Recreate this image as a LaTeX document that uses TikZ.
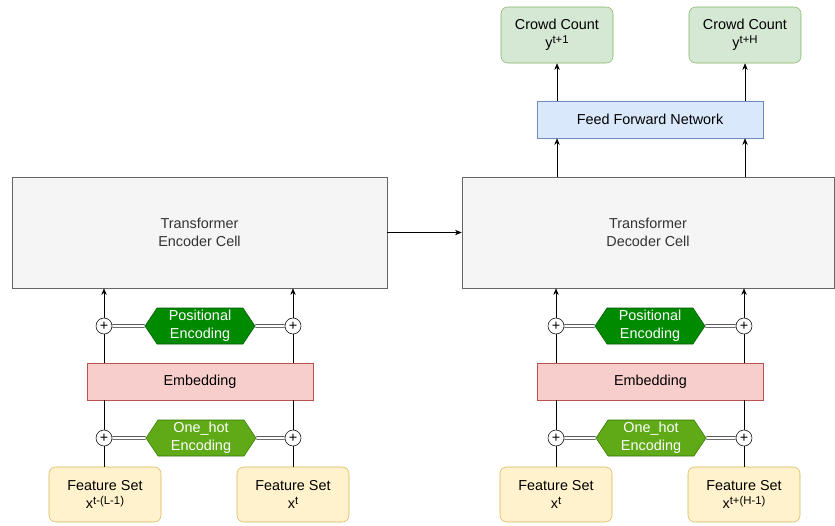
\documentclass[tikz,border=0pt]{standalone}
\usepackage{fontspec}
\setmainfont{Liberation Sans}
\usetikzlibrary{positioning,arrows.meta,shapes.symbols}

\definecolor{cellfill}{HTML}{F5F5F5}
\definecolor{celldraw}{HTML}{666666}
\definecolor{celltext}{HTML}{333333}
\definecolor{embfill}{HTML}{F8CECC}
\definecolor{embdraw}{HTML}{B85450}
\definecolor{featfill}{HTML}{FFF2CC}
\definecolor{featdraw}{HTML}{D6B656}
\definecolor{ffnfill}{HTML}{DAE8FC}
\definecolor{ffndraw}{HTML}{6C8EBF}
\definecolor{outfill}{HTML}{D5E8D4}
\definecolor{outdraw}{HTML}{82B366}
\definecolor{posfill}{HTML}{008A00}
\definecolor{posdraw}{HTML}{005700}
\definecolor{hotfill}{HTML}{60A917}
\definecolor{hotdraw}{HTML}{2D7600}
\newcommand{\supx}[1]{\raisebox{0.55ex}{\fontsize{8.5pt}{9pt}\selectfont #1}}

\begin{document}
\begin{tikzpicture}[x=0.75pt,y=-0.75pt,font=\fontsize{10.8pt}{13.5pt}\selectfont,
  cell/.style={draw=celldraw,fill=cellfill,text=celltext,minimum width=281.25pt,minimum height=83.25pt,align=center},
  emb/.style={draw=embdraw,fill=embfill,minimum width=169.5pt,minimum height=27.75pt},
  feat/.style={draw=featdraw,fill=featfill,rounded corners=5pt,minimum width=84pt,minimum height=41.25pt,align=center},
  outbox/.style={draw=outdraw,fill=outfill,rounded corners=5pt,minimum width=84pt,minimum height=42pt,align=center},
  hexa/.style={shape=signal,signal to=east and west,signal pointer angle=112.6,minimum width=82.5pt,minimum height=27pt,inner sep=0pt,text=white,align=center},
  plusc/.style={draw,circle,fill=white,minimum size=12pt,inner sep=0pt},
  arr/.style={-{Stealth[length=5pt,width=4pt]}},
  dbl/.style={double,double distance=1.5pt}]
  \useasboundingbox (0,0) rectangle (835,525);
  % encoder side
  \node[cell] (enc) at (199.5,232.5) {Transformer\\Encoder Cell};
  \node[emb] (embA) at (200,381.5) {Embedding};
  \node[hexa,fill=posfill,draw=posdraw] (posA) at (200,326) {Positional\\Encoding};
  \node[hexa,fill=hotfill,draw=hotdraw] (hotA) at (201,438) {One\_hot\\Encoding};
  \node[plusc] (pa1) at (104,326) {+};
  \node[plusc] (pa2) at (293,326) {+};
  \node[plusc] (ha1) at (104,438) {+};
  \node[plusc] (ha2) at (293,438) {+};
  \node[feat] (fa1) at (105,494.5) {Feature Set\\x\supx{t-(L-1)}};
  \node[feat] (fa2) at (293,494.5) {Feature Set\\x\supx{t}};
  % decoder side
  \node[cell,minimum width=279pt] (dec) at (648,232.5) {Transformer\\Decoder Cell};
  \node[emb] (embB) at (650.5,381.5) {Embedding};
  \node[hexa,fill=posfill,draw=posdraw] (posB) at (650,326) {Positional\\Encoding};
  \node[hexa,fill=hotfill,draw=hotdraw] (hotB) at (651,438) {One\_hot\\Encoding};
  \node[plusc] (pb1) at (556,326) {+};
  \node[plusc] (pb2) at (744,326) {+};
  \node[plusc] (hb1) at (556,438) {+};
  \node[plusc] (hb2) at (744,438) {+};
  \node[feat] (fb1) at (556,494.5) {Feature Set\\x\supx{t}};
  \node[feat] (fb2) at (744,494.5) {Feature Set\\x\supx{t+(H-1)}};
  \node[draw=ffndraw,fill=ffnfill,minimum width=169.5pt,minimum height=27.75pt] (ffn) at (650,119.5) {Feed Forward Network};
  \node[outbox] (ya) at (557,35) {Crowd Count\\y\supx{t+1}};
  \node[outbox] (yb) at (745,35) {Crowd Count\\y\supx{t+H}};
  % connectors
  \foreach \f/\h/\p/\e/\c in {fa1/ha1/pa1/embA/enc,fa2/ha2/pa2/embA/enc,fb1/hb1/pb1/embB/dec,fb2/hb2/pb2/embB/dec}{
    \draw (\h |- \f.north) -- (\h.south);
    \draw (\h.north) -- (\h |- \e.south);
    \draw (\p |- \e.north) -- (\p.south);
    \draw[arr] (\p.north) -- (\p |- \c.south);
  }
  \foreach \a/\b in {pa1/posA,pa2/posA,ha1/hotA,ha2/hotA,pb1/posB,pb2/posB,hb1/hotB,hb2/hotB}
    \draw[dbl] (\a) -- (\b);
  \draw[arr] (enc) -- (dec);
  \foreach \y in {ya,yb}{
    \draw[arr] (\y |- dec.north) -- (\y |- ffn.south);
    \draw[arr] (\y |- ffn.north) -- (\y.south);
  }
\end{tikzpicture}
\end{document}
